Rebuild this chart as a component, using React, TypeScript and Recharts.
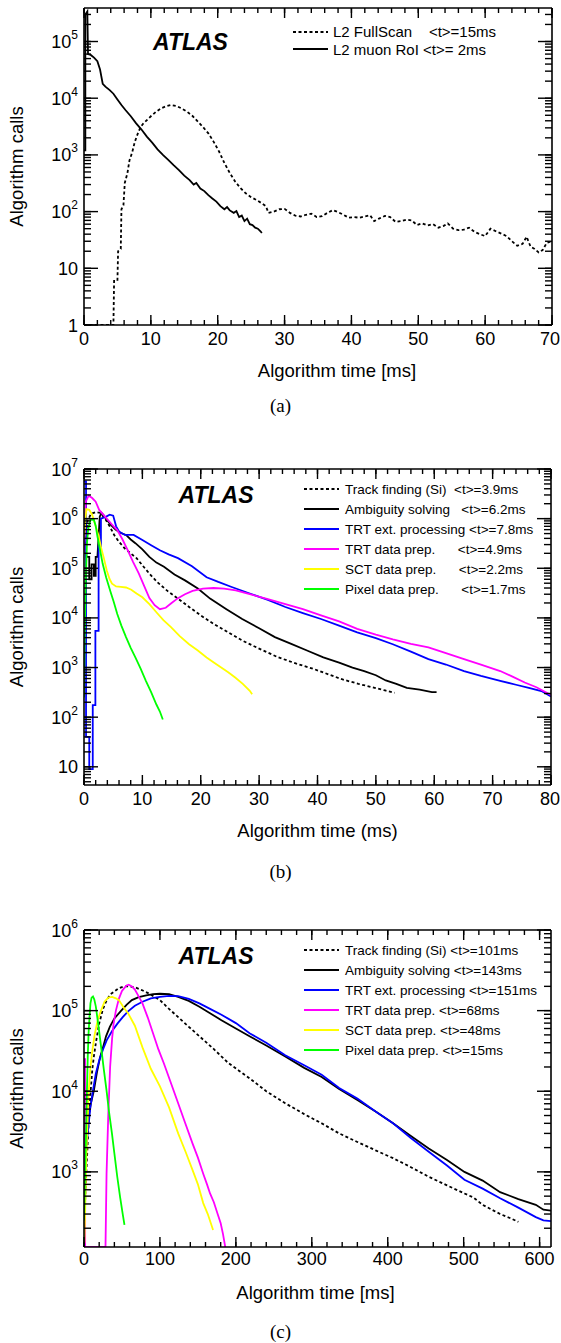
import React from 'react';
import { LineChart, Line, XAxis, YAxis } from 'recharts';

type Pt = [number, number];

const SANS = '"Liberation Sans", Arial, Helvetica, sans-serif';
const SERIF = '"Liberation Serif", "Times New Roman", serif';

// ---------- (a) L2 full scan vs muon RoI ----------
const fullScanA: Pt[] = [
  [0, 1], [4.4, 1], [4.5, 6], [5.0, 6], [5.1, 20], [5.5, 22], [5.6, 110], [5.9, 130], [6.1, 320],
  [6.5, 480], [6.8, 800], [7.2, 1100], [7.6, 1700], [8.0, 2300], [8.4, 3000], [8.8, 3500], [9.4, 4100],
  [10.0, 4800], [10.8, 5800], [11.6, 6700], [12.4, 7300], [13.0, 7600], [13.8, 7300], [14.6, 6600],
  [15.4, 5800], [16.2, 4900], [17.0, 3900], [17.8, 3100], [18.6, 2400], [19.4, 1700], [20.2, 1150],
  [21.0, 720], [21.8, 480], [22.6, 340], [23.4, 260], [24.2, 210], [25.0, 180], [25.8, 160], [26.6, 140],
  [27.2, 125], [27.6, 95], [28.4, 100], [29.2, 110], [30.0, 112], [30.8, 95], [31.6, 85], [32.4, 82],
  [33.2, 88], [34.0, 92], [34.8, 80], [35.6, 83], [36.4, 95], [37.2, 106], [38.0, 98], [38.8, 88],
  [39.6, 78], [40.4, 80], [41.2, 78], [42.0, 82], [42.8, 86], [43.4, 68], [44.2, 76], [45.0, 84],
  [45.8, 80], [46.6, 66], [47.4, 68], [48.2, 72], [49.0, 70], [49.8, 58], [50.6, 62], [51.4, 57],
  [52.2, 60], [53.0, 52], [53.8, 56], [54.4, 62], [55.2, 50], [56.0, 47], [56.8, 48], [57.6, 52],
  [58.4, 44], [59.2, 40], [60.0, 37], [60.8, 50], [61.6, 45], [62.4, 41], [63.2, 37], [64.0, 30],
  [64.8, 25], [65.6, 27], [66.2, 36], [66.8, 24], [67.4, 22], [68.0, 19], [68.6, 21], [69.2, 28], [70, 30],
];
const muonRoiA: Pt[] = [
  [0, 1200], [0.2, 1200], [0.2, 300000], [0.5, 340000], [0.6, 60000], [1.0, 58000], [1.5, 52000],
  [2.0, 45000], [2.4, 32000], [2.8, 18000], [3.2, 16000], [3.8, 14000], [4.4, 12000], [5.0, 9500],
  [5.6, 7600], [6.2, 6200], [7.0, 4800], [7.8, 3600], [8.6, 2800], [9.4, 2100], [10.2, 1650],
  [11.0, 1250], [11.8, 1000], [12.6, 820], [13.4, 660], [14.2, 540], [15.0, 430], [15.8, 360],
  [16.4, 300], [16.8, 320], [17.4, 255], [18.0, 230], [18.6, 195], [19.2, 170], [19.8, 150],
  [20.4, 125], [21.0, 110], [21.4, 120], [21.8, 105], [22.4, 95], [22.8, 102], [23.2, 80], [23.6, 85],
  [24.0, 68], [24.4, 75], [24.8, 60], [25.2, 58], [25.6, 52], [26.0, 50], [26.4, 45], [26.6, 42],
];
const legendA = ['L2 FullScan    <t>=15ms', 'L2 muon RoI <t>= 2ms'];

// ---------- (b) Si track finding chain, times in ms ----------
const trackSiB: Pt[] = [
  [0.2, 3e5], [0.6, 9e5], [1.2, 1.25e6], [2.0, 1.35e6], [2.8, 1.3e6], [3.6, 1.0e6], [4.4, 7e5],
  [5.2, 4.6e5], [6.0, 3.4e5], [7.0, 2.5e5], [8.0, 2.0e5], [9.0, 1.6e5], [10.0, 1.15e5], [11.2, 7.8e4],
  [12.6, 5.2e4], [14.3, 3.5e4], [16.0, 2.5e4], [18.0, 1.66e4], [20.0, 1.12e4], [22.2, 7.6e3],
  [24.6, 5.2e3], [27.1, 3.5e3], [30.0, 2.4e3], [33.3, 1.6e3], [36.4, 1.2e3], [39.4, 930], [42.0, 720],
  [44.3, 575], [47.0, 470], [49.8, 390], [51.6, 345], [53.2, 310],
];
const ambiguityB: Pt[] = [
  [0.1, 2e5], [0.4, 2e5], [0.4, 1.7e5], [0.9, 1.7e5], [0.9, 6e4], [1.3, 6e4], [1.3, 1.2e5], [1.7, 1.2e5],
  [1.7, 7e4], [2.0, 7e4], [2.0, 1.7e5], [2.3, 1.7e5], [2.7, 1.1e6], [3.0, 1.3e6], [3.4, 1.15e6],
  [3.9, 9.5e5], [4.6, 7.5e5], [5.4, 6e5], [6.2, 5.2e5], [7.2, 4.7e5], [8.0, 3.8e5], [8.8, 3.2e5],
  [10.0, 2.4e5], [11.2, 1.7e5], [12.4, 1.3e5], [13.7, 1.07e5], [15.5, 7.5e4], [17.3, 5.7e4],
  [19.5, 3.9e4], [21.6, 2.45e4], [24.4, 1.5e4], [27.1, 9.5e3], [30.0, 6.2e3], [32.7, 4.1e3],
  [35.5, 3.0e3], [38.2, 2.2e3], [41.0, 1.6e3], [43.7, 1.26e3], [46.0, 1.0e3], [48.0, 850], [50.0, 700],
  [51.7, 550], [53.5, 470], [55.3, 390], [57.5, 360], [59.6, 320], [60.4, 320],
];
const trtExtB: Pt[] = [
  [0, 5.6e6], [0.35, 5.6e6], [0.35, 40], [0.9, 40], [0.9, 9], [1.5, 9], [1.5, 175], [1.95, 175],
  [1.95, 5.5e3], [2.5, 5.5e3], [2.5, 2.8e5], [2.9, 2.8e5], [2.9, 1.0e6], [3.8, 1.1e6], [4.4, 1.2e6],
  [5.0, 1.15e6], [5.5, 7e5], [6.0, 5.5e5], [7.0, 4.7e5], [8.5, 4.7e5], [10.0, 3.7e5], [11.5, 2.9e5],
  [13.0, 2.3e5], [14.5, 1.9e5], [16.1, 1.6e5], [18.5, 1.1e5], [21.0, 6.6e4], [23.0, 5.3e4],
  [25.3, 4.2e4], [28.4, 3.1e4], [31.5, 2.3e4], [34.5, 1.66e4], [37.5, 1.25e4], [40.6, 9.5e3],
  [43.7, 7e3], [46.8, 5.1e3], [50.0, 3.9e3], [52.9, 2.95e3], [56.0, 2.1e3], [59.0, 1.48e3],
  [62.0, 1.15e3], [65.1, 850], [68.0, 680], [71.3, 540], [74.0, 450], [76.2, 390], [78.5, 330], [80, 260],
];
const trtDataB: Pt[] = [
  [0, 2e5], [0.3, 2.2e6], [0.8, 2.9e6], [1.4, 2.6e6], [2.0, 2.2e6], [2.6, 1.5e6], [3.2, 1.25e6],
  [3.9, 1.0e6], [4.8, 7.6e5], [5.7, 5.9e5], [6.6, 3.8e5], [7.5, 2.3e5], [8.4, 1.35e5], [9.4, 7.8e4],
  [10.3, 4.4e4], [11.2, 2.5e4], [12.1, 1.8e4], [13.0, 1.5e4], [14.0, 1.6e4], [15.0, 2.0e4],
  [16.1, 2.5e4], [17.3, 3.0e4], [18.6, 3.5e4], [20.4, 3.9e4], [22.2, 4.0e4], [24.0, 3.9e4],
  [26.0, 3.6e4], [28.4, 3.0e4], [31.5, 2.4e4], [34.5, 1.9e4], [37.5, 1.5e4], [40.6, 1.12e4],
  [43.7, 8.5e3], [46.8, 6.0e3], [50.0, 4.6e3], [52.9, 3.7e3], [56.0, 3.0e3], [59.0, 2.55e3],
  [62.0, 1.95e3], [65.1, 1.48e3], [68.0, 1.15e3], [71.3, 850], [73.5, 650], [75.5, 500], [77.5, 400], [80, 280],
];
const sctB: Pt[] = [
  [0, 4e5], [0.4, 1.55e6], [0.9, 1.5e6], [1.4, 1.2e6], [2.0, 7e5], [2.5, 4.5e5], [2.9, 2.7e5],
  [3.4, 1.6e5], [3.9, 9e4], [4.4, 6e4], [4.8, 4.9e4], [5.5, 4.3e4], [6.3, 4.2e4], [7.2, 4.1e4],
  [8.1, 3.7e4], [9.0, 3.1e4], [10.0, 2.6e4], [11.2, 1.9e4], [12.4, 1.3e4], [13.6, 9e3], [14.9, 6.5e3],
  [16.4, 4.3e3], [18.0, 2.95e3], [19.5, 2.2e3], [21.0, 1.6e3], [22.3, 1.25e3], [23.5, 1.0e3],
  [24.7, 800], [25.9, 630], [27.2, 470], [28.4, 340], [28.8, 290],
];
const pixelB: Pt[] = [
  [0, 250], [0.1, 3e3], [0.3, 5.7e4], [0.5, 3e5], [0.7, 6e5], [1.1, 9.4e5], [1.7, 9.4e5], [2.0, 7.2e5],
  [2.3, 4.4e5], [2.7, 2.5e5], [3.2, 1.23e5], [3.8, 6.5e4], [4.5, 3.5e4], [5.1, 2.1e4], [5.7, 1.2e4],
  [6.4, 7e3], [7.2, 4.1e3], [8.0, 2.5e3], [8.8, 1.6e3], [9.7, 950], [10.6, 540], [11.5, 320],
  [12.4, 180], [13.0, 130], [13.5, 90],
];
const legendB = [
  'Track finding (Si)  <t>=3.9ms',
  'Ambiguity solving   <t>=6.2ms',
  'TRT ext. processing <t>=7.8ms',
  'TRT data prep.      <t>=4.9ms',
  'SCT data prep.      <t>=2.2ms',
  'Pixel data prep.      <t>=1.7ms',
];

// ---------- (c) same chain, full scan, times in ms ----------
const trackSiC: Pt[] = [
  [0, 150], [2, 600], [3.8, 1.4e3], [6, 4e3], [8.5, 9.3e3], [11, 1.9e4], [13, 2.7e4], [16, 4.2e4],
  [20, 6.9e4], [25, 1.05e5], [30, 1.35e5], [35, 1.6e5], [39, 1.7e5], [46, 1.9e5], [53, 2.0e5],
  [60, 2.0e5], [67, 1.95e5], [76, 1.8e5], [86, 1.62e5], [100, 1.35e5], [112, 1.05e5], [124, 8.3e4],
  [138, 6.3e4], [152, 4.8e4], [170, 3.4e4], [190, 2.24e4], [204, 1.8e4], [218, 1.45e4], [240, 1.0e4],
  [265, 7.1e3], [290, 5.2e3], [313, 4.0e3], [336, 3.0e3], [360, 2.35e3], [384, 1.85e3], [407, 1.48e3],
  [430, 1.15e3], [454, 870], [478, 680], [501, 540], [513, 480], [525, 390], [537, 340], [548, 300],
  [560, 270], [572, 240],
];
const ambiguityC: Pt[] = [
  [0, 117], [1, 900], [3, 2.2e3], [6, 4.8e3], [9, 7e3], [13, 1.02e4], [17, 1.7e4], [21, 2.6e4],
  [25, 3.5e4], [29, 4.8e4], [34, 6.3e4], [40, 8e4], [49, 1.0e5], [56, 1.18e5], [63, 1.35e5],
  [72, 1.47e5], [82, 1.55e5], [91, 1.6e5], [100, 1.62e5], [112, 1.6e5], [124, 1.48e5], [138, 1.32e5],
  [152, 1.12e5], [166, 9.3e4], [181, 7.6e4], [200, 6.0e4], [218, 4.8e4], [240, 3.7e4], [265, 2.7e4],
  [290, 1.95e4], [313, 1.5e4], [336, 1.07e4], [360, 7.8e3], [384, 5.6e3], [407, 4.0e3], [430, 2.8e3],
  [454, 1.95e3], [478, 1.4e3], [501, 1.0e3], [525, 780], [548, 560], [572, 460], [595, 390],
  [605, 340], [615, 330],
];
const trtExtC: Pt[] = [
  [0, 117], [1.4, 1.6e3], [4, 2.5e3], [8.5, 6.5e3], [12, 1.05e4], [15.6, 1.66e4], [20, 2.4e4],
  [25, 3.3e4], [30, 4.3e4], [37, 5.6e4], [44, 6.9e4], [51, 8.3e4], [58, 9.8e4], [67, 1.15e5],
  [77, 1.29e5], [88, 1.42e5], [100, 1.48e5], [112, 1.52e5], [124, 1.51e5], [138, 1.4e5], [152, 1.23e5],
  [166, 1.05e5], [181, 8.9e4], [200, 7e4], [218, 5.25e4], [240, 4e4], [265, 2.8e4], [290, 2.1e4],
  [313, 1.6e4], [336, 1.1e4], [360, 8.1e3], [384, 5.6e3], [407, 4.0e3], [430, 2.65e3], [454, 1.78e3],
  [478, 1.2e3], [501, 800], [525, 620], [548, 470], [572, 360], [595, 275], [605, 250], [615, 245],
];
const trtDataC: Pt[] = [
  [0, 117], [0, 2.5e4], [1.5, 2.5e4], [1.5, 117], [28.3, 117], [29.7, 950], [32, 5.2e3], [34.4, 2e4],
  [37, 4.5e4], [39, 6.9e4], [42, 1.0e5], [46, 1.41e5], [50, 1.75e5], [53, 1.9e5], [56, 2.05e5],
  [59, 2.1e5], [63, 2.0e5], [67, 1.82e5], [72, 1.5e5], [77, 1.23e5], [84, 8.2e4], [91, 5.2e4],
  [98, 3.3e4], [105, 2.24e4], [114, 1.3e4], [124, 7.1e3], [133, 4.1e3], [143, 2.24e3], [150, 1.5e3],
  [157, 950], [162, 700], [166, 540], [171, 420], [176, 300], [180, 230], [183, 170], [186, 117],
];
const sctC: Pt[] = [
  [0.5, 130], [1.4, 300], [3, 1.5e3], [6, 9.3e3], [8.5, 2e4], [11, 3.2e4], [14, 5.0e4], [18, 7.6e4],
  [22, 9.8e4], [27, 1.29e5], [32, 1.45e5], [37, 1.48e5], [42, 1.42e5], [46, 1.35e5], [52, 1.1e5],
  [58, 9.3e4], [67, 6.5e4], [77, 3.5e4], [88, 1.9e4], [100, 1.15e4], [112, 6.3e3], [124, 3.0e3],
  [134, 1.75e3], [143, 1.05e3], [150, 700], [157, 410], [163, 300], [170, 190],
];
const pixelC: Pt[] = [
  [0, 250], [1, 600], [2.5, 2.5e3], [3.8, 9.3e3], [5, 2.8e4], [6, 5.2e4], [7.3, 8.5e4], [8.5, 1.23e5],
  [10, 1.45e5], [11.8, 1.5e5], [13.5, 1.38e5], [15.6, 1.12e5], [19, 6.5e4], [22.6, 3.5e4], [26, 1.9e4],
  [29.7, 1.02e4], [33, 5.5e3], [36.8, 3.0e3], [40, 1.7e3], [43.8, 870], [47.5, 490], [51, 300], [53.3, 220],
];
const legendC = [
  'Track finding (Si) <t>=101ms',
  'Ambiguity solving <t>=143ms',
  'TRT ext. processing <t>=151ms',
  'TRT data prep. <t>=68ms',
  'SCT data prep. <t>=48ms',
  'Pixel data prep. <t>=15ms',
];

// axis ticks
const xMajorA = [0, 10, 20, 30, 40, 50, 60, 70];
const xMajorB = [0, 10, 20, 30, 40, 50, 60, 70, 80];
const xMajorC = [0, 100, 200, 300, 400, 500, 600];

const COLORS = { black: '#000000', blue: '#0000ff', magenta: '#ff00ff', yellow: '#ffff00', green: '#00ff00' };

interface Series {
  key: string;
  label: string;
  color: string;
  dashed?: boolean;
  pts: Pt[];
}

const seriesA: Series[] = [
  { key: 'fullScan', label: legendA[0], color: COLORS.black, dashed: true, pts: fullScanA },
  { key: 'muonRoi', label: legendA[1], color: COLORS.black, pts: muonRoiA },
];
const seriesB: Series[] = [
  { key: 'trackSi', label: legendB[0], color: COLORS.black, dashed: true, pts: trackSiB },
  { key: 'ambiguity', label: legendB[1], color: COLORS.black, pts: ambiguityB },
  { key: 'trtExt', label: legendB[2], color: COLORS.blue, pts: trtExtB },
  { key: 'trtData', label: legendB[3], color: COLORS.magenta, pts: trtDataB },
  { key: 'sct', label: legendB[4], color: COLORS.yellow, pts: sctB },
  { key: 'pixel', label: legendB[5], color: COLORS.green, pts: pixelB },
];
const seriesC: Series[] = [
  { key: 'trackSi', label: legendC[0], color: COLORS.black, dashed: true, pts: trackSiC },
  { key: 'ambiguity', label: legendC[1], color: COLORS.black, pts: ambiguityC },
  { key: 'trtExt', label: legendC[2], color: COLORS.blue, pts: trtExtC },
  { key: 'trtData', label: legendC[3], color: COLORS.magenta, pts: trtDataC },
  { key: 'sct', label: legendC[4], color: COLORS.yellow, pts: sctC },
  { key: 'pixel', label: legendC[5], color: COLORS.green, pts: pixelC },
];

// tick helpers (ROOT style: 5 divisions linear, 2..9 on log)
const linearTicks = (max: number, step: number) => {
  const out: number[] = [];
  for (let i = 0; i * step <= max + 1e-9; i++) out.push(Math.round(i * step * 1000) / 1000);
  return out;
};
const logTicks = (lo: number, hi: number) => {
  const out: number[] = [];
  for (let e = Math.floor(Math.log10(lo)); e <= Math.ceil(Math.log10(hi)); e++) {
    for (let m = 1; m <= 9; m++) {
      const v = m * Math.pow(10, e);
      if (v >= lo * 0.999 && v <= hi * 1.001) out.push(v);
    }
  }
  return out;
};

const isDecade = (v: number) => {
  const e = Math.log10(v);
  return Math.abs(e - Math.round(e)) < 1e-6;
};

const TICK_W = 1.4;
const X_MINOR = 5;
const Y_MINOR = 7;

// majors get an extra long mark; every tick gets the axis' own short tickLine
const XTick = (props: any) => {
  const { x, y, payload, majors, side, showLabel, labelDy } = props;
  const v = payload.value;
  const major = majors.includes(v);
  const dir = side === 'bottom' ? -1 : 1;
  const digits = String(v).length;
  const lx = Math.min(x, 560 - digits * 5);
  return (
    <g>
      {major && (
        <rect x={x - TICK_W / 2} y={dir < 0 ? y - 10 : y} width={TICK_W} height={10} fill="#000" />
      )}
      {showLabel && major && (
        <text x={lx} y={y + labelDy} textAnchor="middle" fontSize={18} fontFamily={SANS} fill="#000">
          {v}
        </text>
      )}
    </g>
  );
};

const YTick = (props: any) => {
  const { x, y, payload, side, showLabel } = props;
  const v = payload.value;
  const major = isDecade(v);
  const n = Math.round(Math.log10(v));
  return (
    <g>
      {major && (
        <rect x={side === 'left' ? x : x - 14} y={y - TICK_W / 2} width={14} height={TICK_W} fill="#000" />
      )}
      {showLabel && major && (
        <text x={x - 6} y={y + 6.5} textAnchor="end" fontSize={18} fontFamily={SANS} fill="#000">
          {n === 0 ? '1' : n === 1 ? '10' : (
            <>
              10
              <tspan dy={-9} fontSize={12}>{n}</tspan>
            </>
          )}
        </text>
      )}
    </g>
  );
};

const Legend = ({ series, left, top, rowH, fontSize, lineW, gap }: any) => (
  <div style={{ position: 'absolute', left, top, fontFamily: SANS, fontSize, color: '#000' }}>
    {series.map((s: Series) => (
      <div key={s.key} style={{ height: rowH, display: 'flex', alignItems: 'center', whiteSpace: 'pre' }}>
        <svg width={lineW} height={6} style={{ marginRight: gap }}>
          <line x1={0} y1={3} x2={lineW} y2={3} stroke={s.color} strokeWidth={1.8}
            strokeDasharray={s.dashed ? '3 2.5' : undefined} />
        </svg>
        <span>{s.label}</span>
      </div>
    ))}
  </div>
);

interface PanelProps {
  top: number;
  height: number;
  margin: { top: number; right: number; bottom: number; left: number };
  xMax: number;
  xMajor: number[];
  xMinorStep: number;
  yDomain: [number, number];
  series: Series[];
  xTitle: string;
  xTitleDx: number;
  labelDy: number;
  legend: { left: number; top: number; rowH: number; fontSize: number; lineW: number; gap: number };
  atlas: { left: number; top: number };
}

const Panel = (p: PanelProps) => {
  const xTicks = linearTicks(p.xMax, p.xMinorStep);
  const yTicks = logTicks(p.yDomain[0], p.yDomain[1]);
  const frame = { stroke: '#000', strokeWidth: 1.6 };
  const tickLine = { stroke: '#000', strokeWidth: TICK_W };
  return (
    <div style={{ position: 'absolute', left: 0, top: p.top, width: 561, height: p.height }}>
      <LineChart width={561} height={p.height} margin={p.margin}>
        <XAxis
          xAxisId="x"
          dataKey="t"
          type="number"
          domain={[0, p.xMax]}
          allowDataOverflow
          ticks={xTicks}
          interval={0}
          height={35}
          tickSize={-X_MINOR}
          tickMargin={X_MINOR}
          tickLine={tickLine}
          axisLine={frame}
          tick={(t: any) => <XTick {...t} majors={p.xMajor} side="bottom" showLabel labelDy={p.labelDy} />}
          label={(l: any) => {
            const vb = l.viewBox || l;
            return (
              <text x={vb.x + vb.width / 2 + p.xTitleDx} y={vb.y + vb.height + 17} textAnchor="middle"
                fontSize={18.5} fontFamily={SANS} fill="#000">
                {p.xTitle}
              </text>
            );
          }}
        />
        {/* mirrored copies close the ROOT-style frame with inward ticks */}
        <XAxis
          xAxisId="xt"
          orientation="top"
          mirror
          dataKey="t"
          type="number"
          domain={[0, p.xMax]}
          allowDataOverflow
          ticks={xTicks}
          interval={0}
          height={20}
          tickSize={X_MINOR}
          tickMargin={-X_MINOR}
          tickLine={tickLine}
          axisLine={frame}
          tick={(t: any) => <XTick {...t} majors={p.xMajor} side="top" />}
        />
        <YAxis
          yAxisId="y"
          type="number"
          scale="log"
          domain={p.yDomain}
          allowDataOverflow
          ticks={yTicks}
          interval={0}
          width={84}
          tickSize={-Y_MINOR}
          tickMargin={Y_MINOR}
          tickLine={tickLine}
          axisLine={frame}
          tick={(t: any) => <YTick {...t} side="left" showLabel />}
          label={(l: any) => {
            const vb = l.viewBox || l;
            const cx = vb.x + 23;
            const cy = vb.y + vb.height / 2;
            return (
              <text x={cx} y={cy} transform={`rotate(-90 ${cx} ${cy})`} textAnchor="middle"
                fontSize={18.5} fontFamily={SANS} fill="#000">
                Algorithm calls
              </text>
            );
          }}
        />
        <YAxis
          yAxisId="yr"
          orientation="right"
          mirror
          type="number"
          scale="log"
          domain={p.yDomain}
          allowDataOverflow
          ticks={yTicks}
          interval={0}
          width={20}
          tickSize={Y_MINOR}
          tickMargin={-Y_MINOR}
          tickLine={tickLine}
          axisLine={frame}
          tick={(t: any) => <YTick {...t} side="right" />}
        />
        {p.series.map((s) => (
          <Line
            key={s.key}
            xAxisId="x"
            yAxisId="y"
            data={s.pts.map(([t, n]) => ({ t, n }))}
            dataKey="n"
            type="linear"
            stroke={s.color}
            strokeWidth={1.8}
            strokeDasharray={s.dashed ? '3 2.5' : undefined}
            dot={false}
            activeDot={false}
            isAnimationActive={false}
          />
        ))}
      </LineChart>
      <Legend series={p.series} {...p.legend} />
      <div style={{
        position: 'absolute', left: p.atlas.left, top: p.atlas.top, fontFamily: SANS, fontSize: 23,
        lineHeight: '23px', fontWeight: 'bold', fontStyle: 'italic', color: '#000',
      }}>
        ATLAS
      </div>
    </div>
  );
};

const Caption = ({ text, top }: { text: string; top: number }) => (
  <div style={{
    position: 'absolute', left: 0, width: 561, top, textAlign: 'center', fontFamily: SERIF,
    fontSize: 19, lineHeight: '19px', color: '#000',
  }}>
    {text}
  </div>
);

export default function App() {
  return (
    <div style={{ position: 'absolute', left: 0, top: 0, width: 561, height: 1343, background: '#fff' }}>
      <Panel
        top={0}
        height={400}
        margin={{ top: 8, right: 9, bottom: 40, left: 0 }}
        xMax={70}
        xMajor={xMajorA}
        xMinorStep={2}
        yDomain={[1, 3.9e5]}
        series={seriesA}
        xTitle="Algorithm time [ms]"
        xTitleDx={19}
        labelDy={20}
        legend={{ left: 293, top: 23, rowH: 17.5, fontSize: 15, lineW: 35, gap: 5 }}
        atlas={{ left: 153, top: 30.7 }}
      />
      <Caption text="(a)" top={395.5} />
      <Panel
        top={430}
        height={420}
        margin={{ top: 39, right: 10, bottom: 30, left: 0 }}
        xMax={80}
        xMajor={xMajorB}
        xMinorStep={2}
        yDomain={[4.3, 1e7]}
        series={seriesB}
        xTitle="Algorithm time (ms)"
        xTitleDx={0}
        labelDy={20}
        legend={{ left: 304, top: 49, rowH: 20, fontSize: 13.5, lineW: 35, gap: 6 }}
        atlas={{ left: 178.6, top: 53.7 }}
      />
      <Caption text="(b)" top={862} />
      <Panel
        top={860}
        height={470}
        margin={{ top: 70, right: 10, bottom: 48, left: 0 }}
        xMax={615}
        xMajor={xMajorC}
        xMinorStep={20}
        yDomain={[117, 1e6]}
        series={seriesC}
        xTitle="Algorithm time [ms]"
        xTitleDx={-2}
        labelDy={18}
        legend={{ left: 304, top: 80, rowH: 20, fontSize: 13.5, lineW: 35, gap: 6 }}
        atlas={{ left: 178.6, top: 85.4 }}
      />
      <Caption text="(c)" top={1322} />
    </div>
  );
}
